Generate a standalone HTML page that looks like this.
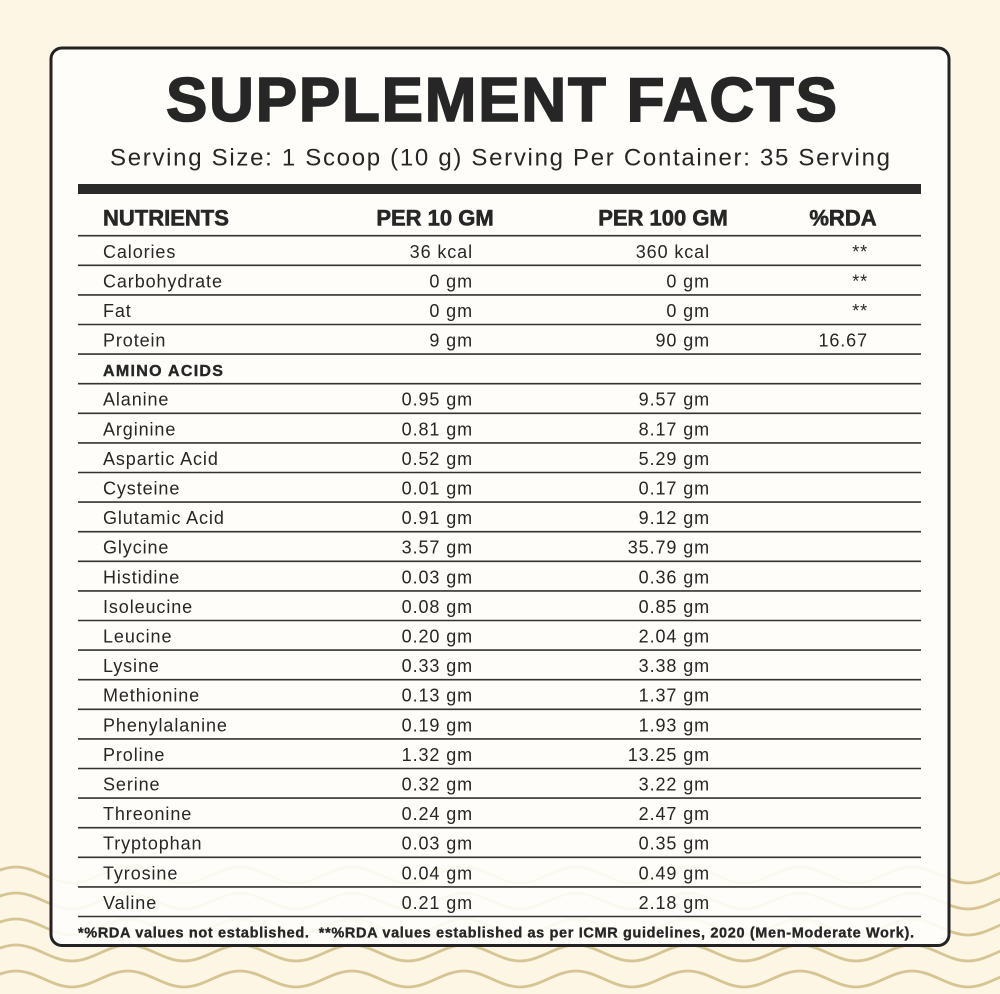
<!DOCTYPE html>
<html>
<head>
<meta charset="utf-8">
<style>
  html,body{margin:0;padding:0;background:#fdf6e5;}
  svg{display:block;}
  text{font-family:"Liberation Sans",Arial,sans-serif;fill:#262626;}
  .t{font-size:18px;letter-spacing:0.9px;}
  .h{font-size:22px;font-weight:bold;stroke:#262626;stroke-width:0.6px;}
</style>
</head>
<body>
<svg width="1000" height="994" viewBox="0 0 1000 994" xmlns="http://www.w3.org/2000/svg">
  <rect x="0" y="0" width="1000" height="994" fill="#fdf6e5"/>
  <!-- waves -->
  <g fill="none" stroke="#d6c493" stroke-width="2.8">
    <path id="w" d="M -96 867 c 20.2 0 35.8 16 56 16 s 35.8 -16 56 -16 s 35.8 16 56 16 s 35.8 -16 56 -16 s 35.8 16 56 16 s 35.8 -16 56 -16 s 35.8 16 56 16 s 35.8 -16 56 -16 s 35.8 16 56 16 s 35.8 -16 56 -16 s 35.8 16 56 16 s 35.8 -16 56 -16 s 35.8 16 56 16 s 35.8 -16 56 -16 s 35.8 16 56 16 s 35.8 -16 56 -16 s 35.8 16 56 16 s 35.8 -16 56 -16 s 35.8 16 56 16 s 35.8 -16 56 -16"/>
    <use href="#w" y="26"/>
    <use href="#w" y="52"/>
    <use href="#w" y="78"/>
    <use href="#w" y="104"/>
  </g>
  <!-- card -->
  <rect x="51" y="48" width="898" height="897.5" rx="11" ry="11" fill="#fffefb" fill-opacity="0.9" stroke="#232323" stroke-width="3"/>

  <!-- title -->
  <text x="166" y="121" font-size="62" font-weight="bold" stroke="#262626" stroke-width="1.6" textLength="671" lengthAdjust="spacing">SUPPLEMENT FACTS</text>
  <text x="110" y="165.7" font-size="24" textLength="780" lengthAdjust="spacing">Serving Size: 1 Scoop (10 g) Serving Per Container: 35 Serving</text>
  <rect x="78" y="184" width="843" height="10" fill="#2a2a2a"/>

  <!-- header -->
  <text class="h" x="103" y="225.5">NUTRIENTS</text>
  <text class="h" x="435" y="225.5" text-anchor="middle">PER 10 GM</text>
  <text class="h" x="663" y="225.5" text-anchor="middle">PER 100 GM</text>
  <text class="h" x="843" y="225.5" text-anchor="middle">%RDA</text>

  <!-- row lines -->
  <g stroke="#333" stroke-width="1.6">
    <line x1="78" x2="921" y1="235.7" y2="235.7"/>
    <line x1="78" x2="921" y1="265.3" y2="265.3"/>
    <line x1="78" x2="921" y1="294.9" y2="294.9"/>
    <line x1="78" x2="921" y1="324.5" y2="324.5"/>
    <line x1="78" x2="921" y1="354.1" y2="354.1"/>
    <line x1="78" x2="921" y1="383.7" y2="383.7"/>
    <line x1="78" x2="921" y1="413.3" y2="413.3"/>
    <line x1="78" x2="921" y1="442.9" y2="442.9"/>
    <line x1="78" x2="921" y1="472.5" y2="472.5"/>
    <line x1="78" x2="921" y1="502.1" y2="502.1"/>
    <line x1="78" x2="921" y1="531.7" y2="531.7"/>
    <line x1="78" x2="921" y1="561.3" y2="561.3"/>
    <line x1="78" x2="921" y1="590.9" y2="590.9"/>
    <line x1="78" x2="921" y1="620.5" y2="620.5"/>
    <line x1="78" x2="921" y1="650.1" y2="650.1"/>
    <line x1="78" x2="921" y1="679.7" y2="679.7"/>
    <line x1="78" x2="921" y1="709.3" y2="709.3"/>
    <line x1="78" x2="921" y1="738.9" y2="738.9"/>
    <line x1="78" x2="921" y1="768.5" y2="768.5"/>
    <line x1="78" x2="921" y1="798.1" y2="798.1"/>
    <line x1="78" x2="921" y1="827.7" y2="827.7"/>
    <line x1="78" x2="921" y1="857.3" y2="857.3"/>
    <line x1="78" x2="921" y1="886.9" y2="886.9"/>
    <line x1="78" x2="921" y1="916.5" y2="916.5"/>
  </g>

  <!-- names -->
  <g class="t">
    <text x="103" y="258">Calories</text>
    <text x="103" y="287.3">Carbohydrate</text>
    <text x="103" y="316.9">Fat</text>
    <text x="103" y="346.5">Protein</text>
    <text x="103" y="376.1" font-size="16" font-weight="bold" letter-spacing="1.3" stroke="#262626" stroke-width="0.4">AMINO ACIDS</text>
    <text x="103" y="405.7">Alanine</text>
    <text x="103" y="435.3">Arginine</text>
    <text x="103" y="464.9">Aspartic Acid</text>
    <text x="103" y="494.5">Cysteine</text>
    <text x="103" y="524.1">Glutamic Acid</text>
    <text x="103" y="553.7">Glycine</text>
    <text x="103" y="583.3">Histidine</text>
    <text x="103" y="612.9">Isoleucine</text>
    <text x="103" y="642.5">Leucine</text>
    <text x="103" y="672.1">Lysine</text>
    <text x="103" y="701.7">Methionine</text>
    <text x="103" y="731.3">Phenylalanine</text>
    <text x="103" y="760.9">Proline</text>
    <text x="103" y="790.5">Serine</text>
    <text x="103" y="820.1">Threonine</text>
    <text x="103" y="849.7">Tryptophan</text>
    <text x="103" y="879.3">Tyrosine</text>
    <text x="103" y="908.9">Valine</text>
  </g>

  <!-- per 10 gm -->
  <g class="t" text-anchor="end">
    <text x="473" y="258">36 kcal</text>
    <text x="473" y="287.3">0 gm</text>
    <text x="473" y="316.9">0 gm</text>
    <text x="473" y="346.5">9 gm</text>
    <text x="473" y="405.7">0.95 gm</text>
    <text x="473" y="435.3">0.81 gm</text>
    <text x="473" y="464.9">0.52 gm</text>
    <text x="473" y="494.5">0.01 gm</text>
    <text x="473" y="524.1">0.91 gm</text>
    <text x="473" y="553.7">3.57 gm</text>
    <text x="473" y="583.3">0.03 gm</text>
    <text x="473" y="612.9">0.08 gm</text>
    <text x="473" y="642.5">0.20 gm</text>
    <text x="473" y="672.1">0.33 gm</text>
    <text x="473" y="701.7">0.13 gm</text>
    <text x="473" y="731.3">0.19 gm</text>
    <text x="473" y="760.9">1.32 gm</text>
    <text x="473" y="790.5">0.32 gm</text>
    <text x="473" y="820.1">0.24 gm</text>
    <text x="473" y="849.7">0.03 gm</text>
    <text x="473" y="879.3">0.04 gm</text>
    <text x="473" y="908.9">0.21 gm</text>
  </g>

  <!-- per 100 gm -->
  <g class="t" text-anchor="end">
    <text x="710" y="258">360 kcal</text>
    <text x="710" y="287.3">0 gm</text>
    <text x="710" y="316.9">0 gm</text>
    <text x="710" y="346.5">90 gm</text>
    <text x="710" y="405.7">9.57 gm</text>
    <text x="710" y="435.3">8.17 gm</text>
    <text x="710" y="464.9">5.29 gm</text>
    <text x="710" y="494.5">0.17 gm</text>
    <text x="710" y="524.1">9.12 gm</text>
    <text x="710" y="553.7">35.79 gm</text>
    <text x="710" y="583.3">0.36 gm</text>
    <text x="710" y="612.9">0.85 gm</text>
    <text x="710" y="642.5">2.04 gm</text>
    <text x="710" y="672.1">3.38 gm</text>
    <text x="710" y="701.7">1.37 gm</text>
    <text x="710" y="731.3">1.93 gm</text>
    <text x="710" y="760.9">13.25 gm</text>
    <text x="710" y="790.5">3.22 gm</text>
    <text x="710" y="820.1">2.47 gm</text>
    <text x="710" y="849.7">0.35 gm</text>
    <text x="710" y="879.3">0.49 gm</text>
    <text x="710" y="908.9">2.18 gm</text>
  </g>

  <!-- %RDA -->
  <g class="t" text-anchor="end">
    <text x="868" y="258" fill="#444">**</text>
    <text x="868" y="287.3" fill="#444">**</text>
    <text x="868" y="316.9" fill="#444">**</text>
    <text x="868" y="346.5">16.67</text>
  </g>

  <!-- footer -->
  <text x="78" y="937.5" font-size="14.5" font-weight="bold" stroke="#262626" stroke-width="0.35" textLength="836" lengthAdjust="spacing" xml:space="preserve">*%RDA values not established.  **%RDA values established as per ICMR guidelines, 2020 (Men-Moderate Work).</text>
</svg>
</body>
</html>
